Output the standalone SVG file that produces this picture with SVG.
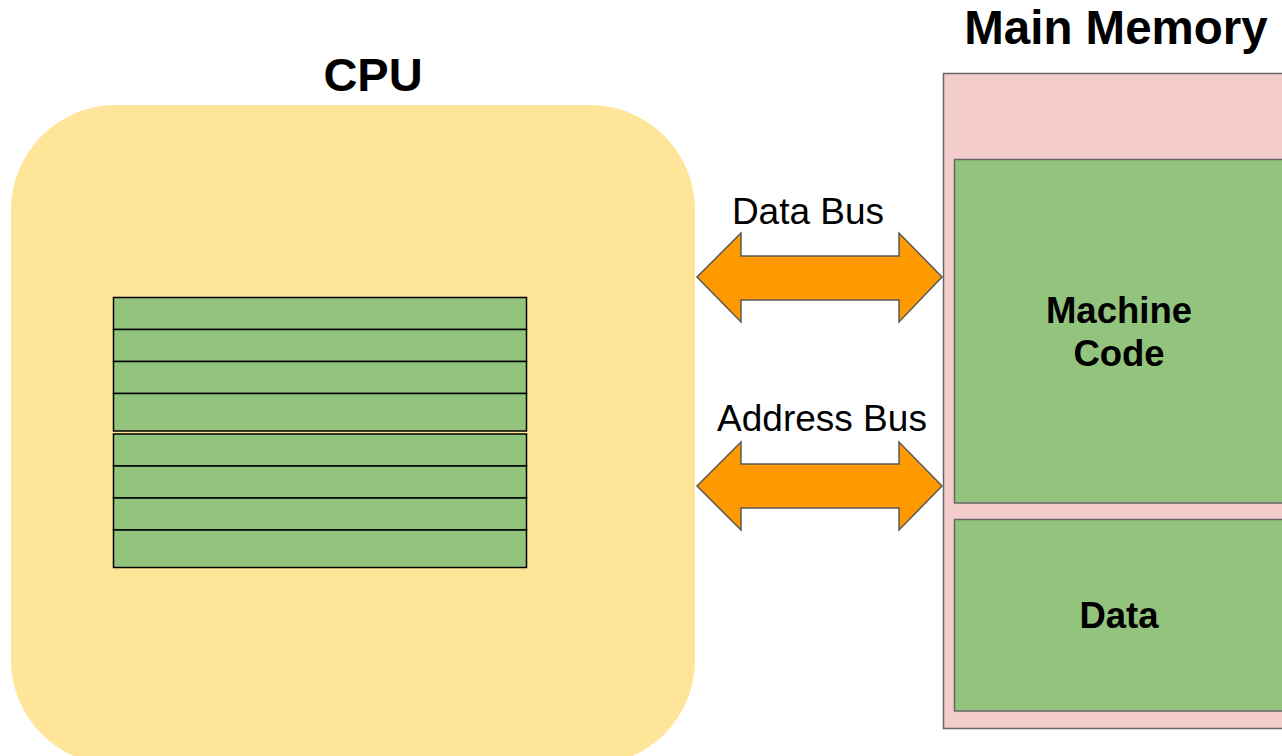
<svg xmlns="http://www.w3.org/2000/svg" width="1282" height="756" viewBox="0 0 1282 756">
<style>
.t{font-family:"Liberation Sans",Arial,sans-serif;fill:#000}
.b{font-weight:bold}
.reg{fill:#93c47d;stroke:#000;stroke-width:1.5}
.mem{fill:#93c47d;stroke:#666;stroke-width:1.5}
.bus{fill:#ff9900;stroke:#595959;stroke-width:1.5;stroke-linejoin:miter}
</style>
<rect width="1282" height="756" fill="#fff"/>
<g id="cpu">
<rect x="11" y="105" width="684" height="660" rx="105" ry="105" fill="#ffe599"/>
<text class="t b" x="373" y="91" font-size="47" text-anchor="middle">CPU</text>
<g id="registers">
<rect class="reg" x="113.5" y="297.5" width="413" height="32"/>
<rect class="reg" x="113.5" y="329.5" width="413" height="32"/>
<rect class="reg" x="113.5" y="361.5" width="413" height="32"/>
<rect class="reg" x="113.5" y="393.5" width="413" height="37.5"/>
<rect class="reg" x="113.5" y="434" width="413" height="32"/>
<rect class="reg" x="113.5" y="466" width="413" height="32"/>
<rect class="reg" x="113.5" y="498" width="413" height="32"/>
<rect class="reg" x="113.5" y="530" width="413" height="37.5"/>
</g>
</g>
<g id="memory">
<rect x="943.5" y="73.5" width="350" height="655" fill="#f4cccc" stroke="#666" stroke-width="1.5"/>
<text class="t b" x="1116" y="44" font-size="47.5" text-anchor="middle">Main Memory</text>
</g>
<g id="machine-code">
<rect class="mem" x="954.5" y="159.5" width="340" height="343.5"/>
<text class="t b" x="1119" y="323" font-size="36.5" text-anchor="middle">Machine</text>
<text class="t b" x="1119" y="366" font-size="36.5" text-anchor="middle">Code</text>
</g>
<g id="data">
<rect class="mem" x="954.5" y="519.5" width="340" height="191.5"/>
<text class="t b" x="1119" y="628" font-size="36.5" text-anchor="middle">Data</text>
</g>
<g id="connectors">
<path class="bus" d="M697,277 L741,233 L741,256 L899,256 L899,233 L942,277 L899,322 L899,300 L741,300 L741,322 Z"/>
<text class="t" x="808" y="224" font-size="37" text-anchor="middle">Data Bus</text>
<path class="bus" d="M697,486 L741,442 L741,464 L899,464 L899,442 L942,486 L899,530 L899,508 L741,508 L741,530 Z"/>
<text class="t" x="822" y="431" font-size="37" text-anchor="middle">Address Bus</text>
</g>
</svg>
